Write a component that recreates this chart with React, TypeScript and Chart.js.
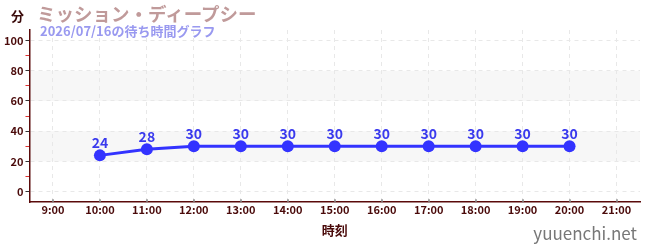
import React, { useEffect, useRef } from "react";
import { Chart, registerables } from "chart.js";

Chart.register(...registerables);

const hours = ["9:00", "10:00", "11:00", "12:00", "13:00", "14:00", "15:00", "16:00", "17:00", "18:00", "19:00", "20:00", "21:00"];
const waitTimes: (number | null)[] = [null, 24, 28, 30, 30, 30, 30, 30, 30, 30, 30, 30, null];
const yTickValues = [0, 10, 20, 30, 40, 50, 60, 70, 80, 90, 100];
const bands: [number, number][] = [[20, 40], [60, 80]];

const titleText = "ミッション・ディープシー";
const subtitleText = "2026/07/16の待ち時間グラフ";
const yUnit = "分";
const xTitle = "時刻";
const watermark = "yuuenchi.net";

const JP = '"Noto Sans CJK JP", "Noto Sans", sans-serif';

const bandPlugin = {
  id: "bands",
  beforeDraw(chart: any) {
    const { ctx, chartArea, scales } = chart;
    const y = scales.y;
    ctx.save();
    ctx.fillStyle = "#f7f7f7";
    for (const [a, b] of bands) {
      const top = y.getPixelForValue(b);
      const bot = y.getPixelForValue(a);
      ctx.fillRect(chartArea.left, top, chartArea.right - chartArea.left, bot - top);
    }
    ctx.restore();
  },
};

const innerTickPlugin = {
  id: "innerTicks",
  afterDraw(chart: any) {
    const { ctx, chartArea, scales } = chart;
    const x = scales.x;
    ctx.save();
    ctx.strokeStyle = "#888";
    ctx.lineWidth = 1.5;
    x.ticks.forEach((_t: any, i: number) => {
      const px = Math.round(x.getPixelForTick(i));
      ctx.beginPath();
      ctx.moveTo(px, chartArea.bottom - 3);
      ctx.lineTo(px, chartArea.bottom);
      ctx.stroke();
    });
    ctx.restore();
  },
};

const labelPlugin = {
  id: "pointLabels",
  afterDatasetsDraw(chart: any) {
    const { ctx } = chart;
    const meta = chart.getDatasetMeta(0);
    const data = chart.data.datasets[0].data;
    ctx.save();
    ctx.fillStyle = "#3a3aee";
    ctx.font = `bold 14px ${JP}`;
    ctx.textAlign = "center";
    ctx.textBaseline = "bottom";
    meta.data.forEach((pt: any, i: number) => {
      const v = data[i];
      if (v === null || v === undefined) return;
      ctx.fillText(String(v), pt.x, pt.y - 6);
    });
    ctx.restore();
  },
};

export default function App() {
  const ref = useRef<HTMLCanvasElement | null>(null);
  useEffect(() => {
    if (!ref.current) return;
    const chart = new Chart(ref.current, {
      type: "line",
      data: {
        labels: hours,
        datasets: [
          {
            data: waitTimes,
            borderColor: "#3333ff",
            backgroundColor: "#3333ff",
            borderWidth: 3,
            pointRadius: 6,
            pointBackgroundColor: "#3333ff",
            pointBorderWidth: 0,
            tension: 0,
            spanGaps: false,
          },
        ],
      },
      plugins: [bandPlugin, labelPlugin, innerTickPlugin],
      options: {
        animation: false,
        responsive: false,
        maintainAspectRatio: false,
        layout: { padding: { left: 2, right: 10, top: 30, bottom: 12 } },
        plugins: { legend: { display: false }, tooltip: { enabled: false }, title: { display: false } },
        scales: {
          x: {
            type: "category",
            offset: true,
            grid: {
              offset: false,
              color: "#e8e8e8",
              tickLength: 0,
              drawOnChartArea: true,
            },
            border: { color: "#5a0a0a", width: 1.5, dash: [4, 4] },
            ticks: { color: "#4a0a0a", font: { family: JP, size: 11, weight: "bold" }, padding: 1 },
            title: { display: true, text: xTitle, color: "#4a0a0a", font: { family: JP, size: 13, weight: "bold" }, padding: { top: 5, bottom: 0 } },
          },
          y: {
            min: -7,
            max: 107,
            afterBuildTicks: (scale: any) => {
              scale.ticks = yTickValues.map((v) => ({ value: v }));
            },
            grid: {
              color: (c: any) => (c.tick && c.tick.value % 20 === 0 ? "#e8e8e8" : "rgba(0,0,0,0)"),
              tickColor: (c: any) => (c.tick && c.tick.value % 20 === 0 ? "#333" : "#e03030"),
              tickLength: 4,
            },
            border: { color: "#5a0a0a", width: 1.5, dash: [4, 4] },
            ticks: {
              color: "#4a0a0a",
              font: { family: JP, size: 11, weight: "bold" },
              padding: 2,
              callback: (v: any) => (Number(v) % 20 === 0 ? String(v) : ""),
            },
          },
        },
      },
    });
    return () => chart.destroy();
  }, []);

  return (
    <div style={{ position: "fixed", left: 0, top: 0, width: 650, height: 250, background: "#fff" }}>
      <canvas ref={ref} width={650} height={250} style={{ position: "absolute", left: 0, top: 0 }} />
      <div style={{ position: "absolute", left: 11, top: 6, fontFamily: JP, fontWeight: "bold", fontSize: 13, color: "#3a0a0a" }}>{yUnit}</div>
      <div style={{ position: "absolute", left: 37, top: 0, fontFamily: JP, fontWeight: "bold", fontSize: 18.5, color: "#c09a9a", whiteSpace: "nowrap", lineHeight: "26px" }}>{titleText}</div>
      <div style={{ position: "absolute", left: 40, top: 21, fontFamily: JP, fontWeight: "bold", fontSize: 13, color: "#9999f0", whiteSpace: "nowrap", lineHeight: "20px" }}>{subtitleText}</div>
      <div style={{ position: "absolute", right: 13, top: 220, fontFamily: JP, fontSize: 17, color: "#777", whiteSpace: "nowrap", lineHeight: "26px" }}>{watermark}</div>
    </div>
  );
}
